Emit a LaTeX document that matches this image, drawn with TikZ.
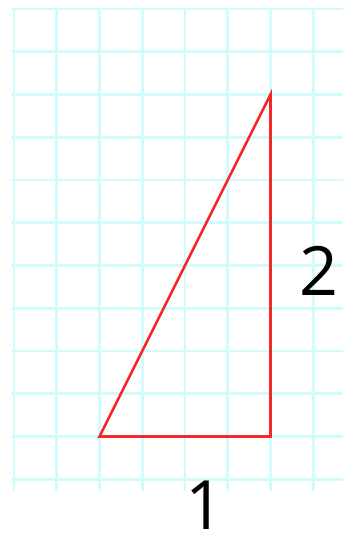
\documentclass[tikz,border=0pt]{standalone}
\usepackage{fontspec}
\setmainfont{Open Sans}
\definecolor{gridcyan}{RGB}{208,252,252}
\definecolor{trired}{RGB}{245,40,40}
\begin{document}
\begin{tikzpicture}[x=1pt,y=-1pt,
  gridline/.style={draw=gridcyan,line width=2.6pt},
  triline/.style={draw=trired,line width=2.6pt,line join=miter},
  lab/.style={font=\fontsize{68}{68}\selectfont,inner sep=0pt,anchor=base,text=black}]
\useasboundingbox (0,0) rectangle (343,534);
% grid
\foreach \k in {0,...,7}
  \draw[gridline] ({14+42.75*\k},8) -- ({14+42.75*\k},491);
\foreach \k in {0,...,11}
  \draw[gridline] (11,{9+42.75*\k}) -- (343,{9+42.75*\k});
% triangle
\coordinate (A) at (99.5,436.5);
\coordinate (B) at (270.5,436.5);
\coordinate (C) at (270.5,94.5);
\draw[triline] (A) -- (B) -- (C) -- cycle;
% labels
\node[lab] (two) at (319,295) {2};
\node[lab] (one) at (205,529) {1};
\end{tikzpicture}
\end{document}
